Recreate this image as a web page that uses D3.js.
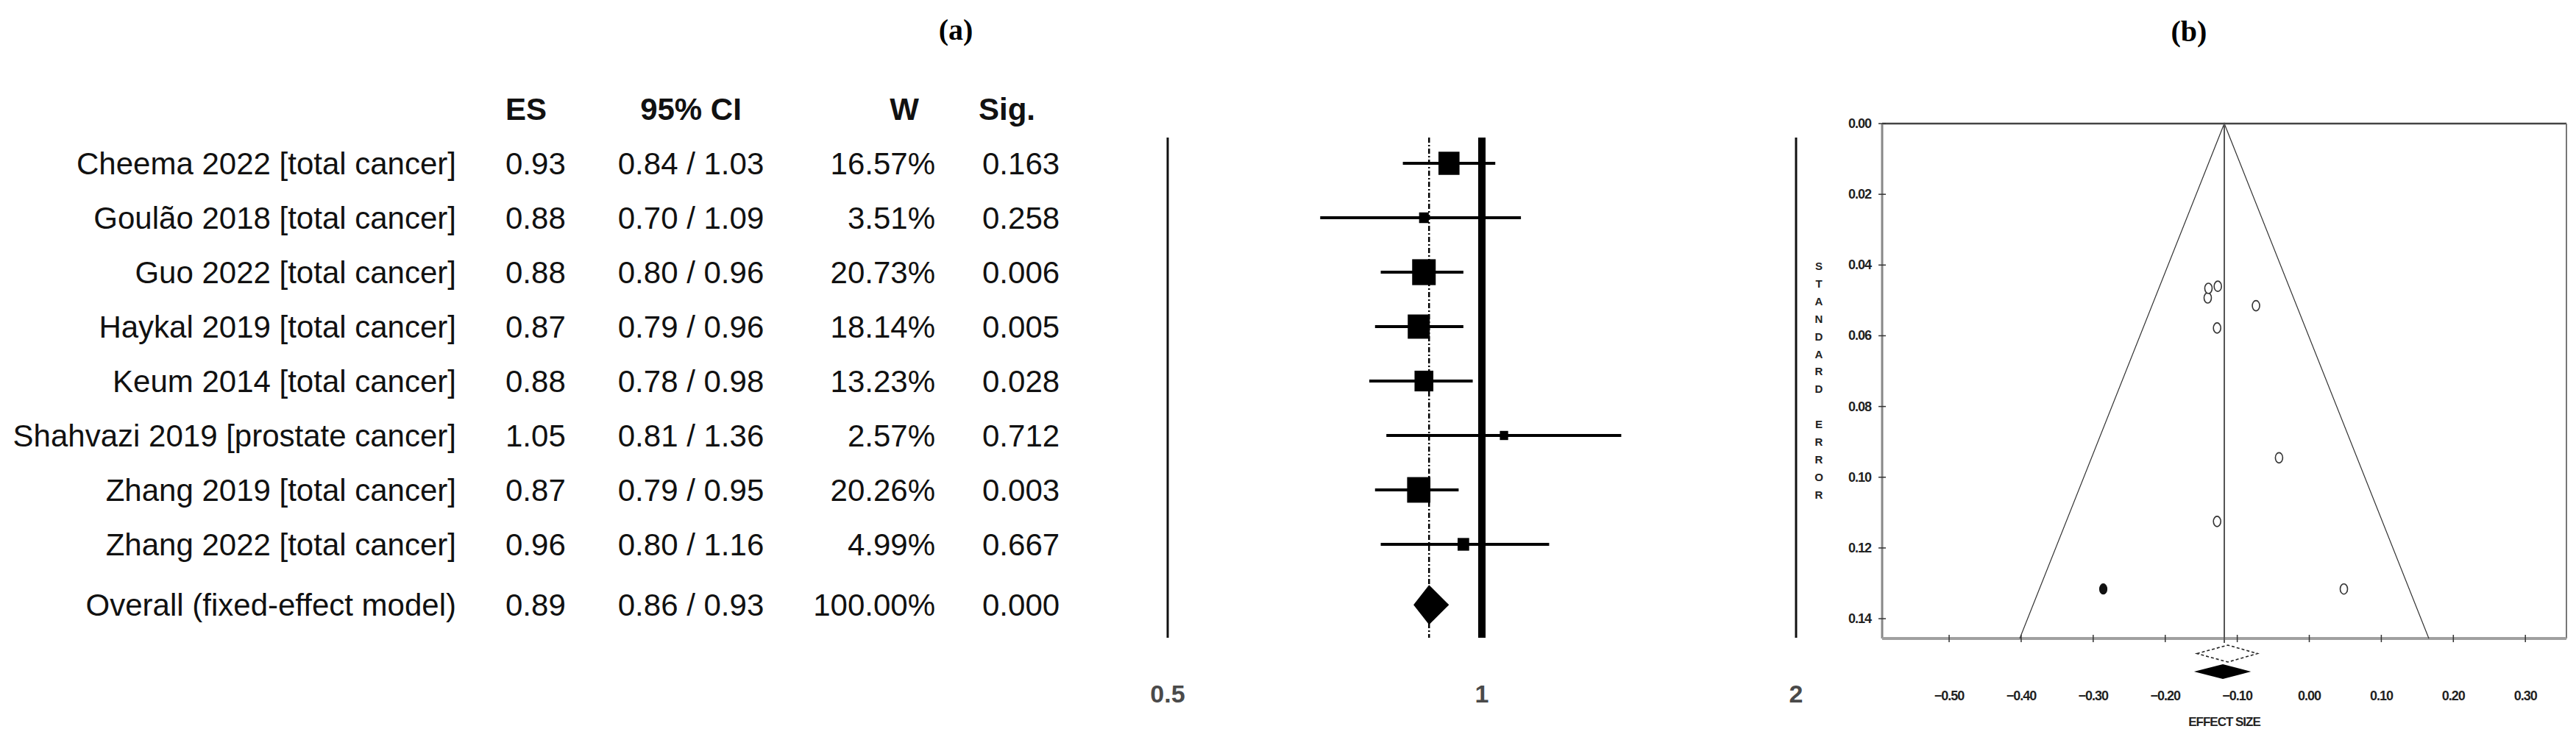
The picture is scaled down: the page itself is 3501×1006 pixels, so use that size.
<!DOCTYPE html>
<html>
<head>
<meta charset="utf-8">
<script src="https://cdn.jsdelivr.net/npm/d3@7"></script>
<style>
  body { margin: 0; background: #fff; }
  svg { display: block; }
</style>
</head>
<body>
<div id="chart"></div>
<script>
// forest plot table (a)
var studies = ["Cheema 2022 [total cancer]", "Goulão 2018 [total cancer]", "Guo 2022 [total cancer]",
               "Haykal 2019 [total cancer]", "Keum 2014 [total cancer]", "Shahvazi 2019 [prostate cancer]",
               "Zhang 2019 [total cancer]", "Zhang 2022 [total cancer]"];
var es      = [0.93, 0.88, 0.88, 0.87, 0.88, 1.05, 0.87, 0.96];
var ciLo    = [0.84, 0.70, 0.80, 0.79, 0.78, 0.81, 0.79, 0.80];
var ciHi    = [1.03, 1.09, 0.96, 0.96, 0.98, 1.36, 0.95, 1.16];
var weights = [16.57, 3.51, 20.73, 18.14, 13.23, 2.57, 20.26, 4.99];
var sig     = ["0.163", "0.258", "0.006", "0.005", "0.028", "0.712", "0.003", "0.667"];
var overall = {label: "Overall (fixed-effect model)", es: 0.89, lo: 0.86, hi: 0.93, w: 100.00, sig: "0.000"};
var forestTicks = [0.5, 1, 2];

// funnel plot (b): log effect size vs standard error
var funnelX  = [-0.074, -0.128, -0.127, -0.141, -0.128, 0.048, -0.140, -0.042];
var funnelSE = [0.0515, 0.1125, 0.046, 0.0493, 0.0578, 0.1316, 0.0466, 0.0945];
var imputedX  = [-0.286];
var imputedSE = [0.1316];
var funnelCenter = -0.118;
var funnelBase = [-0.402, 0.166];
var observedDiamond = [-0.156, -0.113, -0.072];
var adjustedDiamond = [-0.160, -0.120, -0.081];
var xTicks = [-0.5, -0.4, -0.3, -0.2, -0.1, 0.0, 0.1, 0.2, 0.3];
var yTicks = [0.00, 0.02, 0.04, 0.06, 0.08, 0.10, 0.12, 0.14];

var w = 3501, h = 1006;
var sans = "'Liberation Sans', Arial, Helvetica, sans-serif";
var serif = "'Liberation Serif', 'Times New Roman', serif";

var svg = d3.select("#chart").append("svg").attr("width", w).attr("height", h)
    .style("font-family", sans);

// ---------- titles
svg.append("text").text("(a)").attr("x", 1299).attr("y", 54).attr("text-anchor", "middle")
    .style("font-family", serif).style("font-weight", "bold").style("font-size", "40px");
svg.append("text").text("(b)").attr("x", 2975).attr("y", 56).attr("text-anchor", "middle")
    .style("font-family", serif).style("font-weight", "bold").style("font-size", "40px");

// ---------- table
var row = d3.scaleLinear().domain([0, 7]).range([222, 740]);
var overallRow = 8.11;
var base = 15;
var fs = "42px";

var head = svg.append("g").style("font-weight", "bold").style("font-size", fs).attr("fill", "#111");
head.append("text").text("ES").attr("x", 687).attr("y", 163);
head.append("text").text("95% CI").attr("x", 939).attr("y", 163).attr("text-anchor", "middle");
head.append("text").text("W").attr("x", 1249).attr("y", 163).attr("text-anchor", "end");
head.append("text").text("Sig.").attr("x", 1330).attr("y", 163);

var tableRows = studies.map(function(s, i) {
  return {label: s, es: es[i], lo: ciLo[i], hi: ciHi[i], w: weights[i], sig: sig[i], r: i};
});
var allRows = tableRows.concat([Object.assign({r: overallRow}, overall)]);

var tg = svg.append("g").style("font-size", fs).attr("fill", "#111");
var rowsG = tg.selectAll("g.row").data(allRows).enter().append("g").attr("class", "row")
    .attr("transform", function(d) { return "translate(0," + (row(d.r) + base) + ")"; });
rowsG.append("text").text(function(d) { return d.label; }).attr("x", 620).attr("text-anchor", "end");
rowsG.append("text").text(function(d) { return d.es.toFixed(2); }).attr("x", 687);
rowsG.append("text").text(function(d) { return d.lo.toFixed(2) + " / " + d.hi.toFixed(2); })
    .attr("x", 939).attr("text-anchor", "middle");
rowsG.append("text").text(function(d) { return d.w.toFixed(2) + "%"; }).attr("x", 1271).attr("text-anchor", "end");
rowsG.append("text").text(function(d) { return d.sig; }).attr("x", 1335);

// ---------- forest plot
var fx = d3.scaleLog().domain([0.5, 2]).range([1587, 2441]);
var fTop = 187, fBot = 867;
var side = d3.scaleSqrt().domain([0, 20.73]).range([0, 32]);

var fg = svg.append("g");
fg.selectAll("line.border").data([0.5, 2]).enter().append("line")
    .attr("x1", function(d) { return fx(d); }).attr("x2", function(d) { return fx(d); })
    .attr("y1", fTop).attr("y2", fBot).attr("stroke", "#111").attr("stroke-width", 3);
fg.append("line").attr("x1", fx(1)).attr("x2", fx(1)).attr("y1", fTop).attr("y2", fBot)
    .attr("stroke", "#000").attr("stroke-width", 10);
fg.append("line").attr("x1", fx(overall.es)).attr("x2", fx(overall.es)).attr("y1", fTop).attr("y2", fBot)
    .attr("stroke", "#000").attr("stroke-width", 2.5).attr("stroke-dasharray", "7,3,2,3");

fg.selectAll("line.ci").data(tableRows).enter().append("line")
    .attr("x1", function(d) { return fx(d.lo); }).attr("x2", function(d) { return fx(d.hi); })
    .attr("y1", function(d) { return row(d.r); }).attr("y2", function(d) { return row(d.r); })
    .attr("stroke", "#000").attr("stroke-width", 4);
fg.selectAll("rect.sq").data(tableRows).enter().append("rect")
    .attr("x", function(d) { return fx(d.es) - side(d.w) / 2; })
    .attr("y", function(d) { return row(d.r) - side(d.w) * 0.55; })
    .attr("width", function(d) { return side(d.w); })
    .attr("height", function(d) { return side(d.w) * 1.1; })
    .attr("fill", "#000");

var oy = row(overallRow);
fg.append("path")
    .attr("d", "M" + fx(overall.lo) + "," + oy + "L" + fx(overall.es) + "," + (oy - 27) +
               "L" + fx(overall.hi) + "," + oy + "L" + fx(overall.es) + "," + (oy + 27) + "Z")
    .attr("fill", "#000");

fg.selectAll("text.tick").data(forestTicks).enter().append("text")
    .text(function(d) { return d; })
    .attr("x", function(d) { return fx(d); }).attr("y", 955).attr("text-anchor", "middle")
    .style("font-size", "34px").style("font-weight", "bold").attr("fill", "#4a4a4a");

// ---------- funnel plot
var px = d3.scaleLinear().domain([-0.593, 0.357]).range([2558, 3488]);
var py = d3.scaleLinear().domain([0, 0.1456]).range([168, 868]);
var pg = svg.append("g");
var seMax = py.domain()[1];

pg.append("line").attr("x1", px.range()[0]).attr("x2", px.range()[1]).attr("y1", py(0)).attr("y2", py(0))
    .attr("stroke", "#444").attr("stroke-width", 2.5);
pg.append("line").attr("x1", px.range()[1]).attr("x2", px.range()[1]).attr("y1", py(0)).attr("y2", py(seMax))
    .attr("stroke", "#777").attr("stroke-width", 2);
pg.append("line").attr("x1", px.range()[0]).attr("x2", px.range()[0]).attr("y1", py(0)).attr("y2", py(seMax))
    .attr("stroke", "#888").attr("stroke-width", 3);
pg.append("line").attr("x1", px.range()[0]).attr("x2", px.range()[1]).attr("y1", py(seMax)).attr("y2", py(seMax))
    .attr("stroke", "#a0a0a0").attr("stroke-width", 4);

// funnel
pg.append("path")
    .attr("d", "M" + px(funnelBase[0]) + "," + py(seMax) + "L" + px(funnelCenter) + "," + py(0) +
               "L" + px(funnelBase[1]) + "," + py(seMax))
    .attr("fill", "none").attr("stroke", "#333").attr("stroke-width", 1.2);
pg.append("line").attr("x1", px(funnelCenter)).attr("x2", px(funnelCenter)).attr("y1", py(0)).attr("y2", py(seMax) + 6)
    .attr("stroke", "#555").attr("stroke-width", 2);

// ticks
pg.selectAll("line.xt").data(xTicks).enter().append("line")
    .attr("x1", function(d) { return px(d); }).attr("x2", function(d) { return px(d); })
    .attr("y1", py(seMax) - 5).attr("y2", py(seMax) + 5).attr("stroke", "#333").attr("stroke-width", 1.5);
pg.selectAll("text.xt").data(xTicks).enter().append("text")
    .text(function(d) { return d3.format(".2f")(d); })
    .attr("x", function(d) { return px(d); }).attr("y", 952).attr("text-anchor", "middle")
    .style("font-size", "18px").style("font-weight", "bold").style("letter-spacing", "-1px").attr("fill", "#222");
pg.selectAll("line.yt").data(yTicks).enter().append("line")
    .attr("x1", px.range()[0] - 5).attr("x2", px.range()[0] + 5)
    .attr("y1", function(d) { return py(d); }).attr("y2", function(d) { return py(d); })
    .attr("stroke", "#333").attr("stroke-width", 1.5);
pg.selectAll("text.yt").data(yTicks).enter().append("text")
    .text(function(d) { return d3.format(".2f")(d); })
    .attr("x", 2543).attr("y", function(d) { return py(d) + 6; }).attr("text-anchor", "end")
    .style("font-size", "18px").style("font-weight", "bold").style("letter-spacing", "-1px").attr("fill", "#222");

pg.append("text").text("EFFECT SIZE").attr("x", px(funnelCenter)).attr("y", 987).attr("text-anchor", "middle")
    .style("font-size", "17px").style("font-weight", "bold").style("letter-spacing", "-1px").attr("fill", "#222");

var seLetters = "STANDARD ERROR".split("");
pg.selectAll("text.se").data(seLetters).enter().append("text")
    .text(function(d) { return d; })
    .attr("x", 2472).attr("y", function(d, i) { return 367 + i * 23.9; }).attr("text-anchor", "middle")
    .style("font-size", "15px").style("font-weight", "bold").attr("fill", "#222");

// points
pg.selectAll("ellipse.obs").data(funnelX).enter().append("ellipse")
    .attr("cx", function(d) { return px(d); }).attr("cy", function(d, i) { return py(funnelSE[i]); })
    .attr("rx", 5).attr("ry", 7).attr("fill", "#fff").attr("stroke", "#333").attr("stroke-width", 1.6);
pg.selectAll("ellipse.imp").data(imputedX).enter().append("ellipse")
    .attr("cx", function(d) { return px(d); }).attr("cy", function(d, i) { return py(imputedSE[i]); })
    .attr("rx", 5).attr("ry", 7).attr("fill", "#111").attr("stroke", "#111").attr("stroke-width", 1.2);

// diamonds
function diamond(v, cy, hh) {
  return "M" + px(v[0]) + "," + cy + "L" + px(v[1]) + "," + (cy - hh) +
         "L" + px(v[2]) + "," + cy + "L" + px(v[1]) + "," + (cy + hh) + "Z";
}
pg.append("path").attr("d", diamond(observedDiamond, py(seMax) + 20.5, 11.5))
    .attr("fill", "#fff").attr("stroke", "#222").attr("stroke-width", 1.6).attr("stroke-dasharray", "4,3");
pg.append("path").attr("d", diamond(adjustedDiamond, py(seMax) + 45, 10))
    .attr("fill", "#000");
</script>
</body>
</html>
